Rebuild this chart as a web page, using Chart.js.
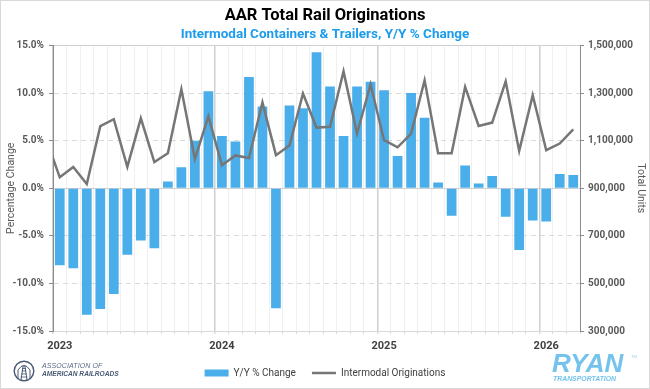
<!DOCTYPE html>
<html>
<head>
<meta charset="utf-8">
<title>AAR Total Rail Originations</title>
<script src="https://cdn.jsdelivr.net/npm/chart.js@4.4.1/dist/chart.umd.min.js"></script>
<style>
    html, body { margin: 0; padding: 0; background: #fff; }
    #wrap {
        position: relative;
        width: 650px; height: 389px;
        box-sizing: border-box;
        border: 1px solid #d9d9d9;
        background: #fff;
        overflow: hidden;
        font-family: "Liberation Sans", Arial, sans-serif;
    }
    #railChart { position: absolute; left: 0; top: 0; }
    .aar-icon { position: absolute; left: 12px; top: 358px; }
    .aar-line1 { position: absolute; left: 41px; top: 361px; font-size: 7px; font-style: italic; color: #5b6a84; letter-spacing: 0.1px; white-space: nowrap; }
    .aar-line2 { position: absolute; left: 41px; top: 369px; font-size: 6.6px; font-style: italic; font-weight: bold; color: #4a5a75; white-space: nowrap; }
    .ryan { position: absolute; left: 551px; top: 349px; font-size: 26px; line-height: 26px; font-weight: bold; font-style: italic; color: #74c3ec; white-space: nowrap; }
    .ryan-tm { position: absolute; left: 630px; top: 353px; font-size: 4px; color: #9ccfeb; }
    .ryan-sub { position: absolute; left: 552px; top: 373px; font-size: 8px; line-height: 9px; font-weight: bold; font-style: italic; color: #74c3ec; white-space: nowrap; transform: scaleX(0.86); transform-origin: left top; }
</style>
</head>
<body>
<div id="wrap">
    <canvas id="railChart" width="648" height="387"></canvas>
    <svg class="aar-icon" width="22" height="25" viewBox="0 0 22 25">
        <circle cx="11" cy="12" r="9.8" fill="none" stroke="#4a5a75" stroke-width="1.4"/>
        <path d="M5 20 L5 11 Q11 2 17 11 L17 20" fill="none" stroke="#4a5a75" stroke-width="1"/>
        <path d="M8 21 L10.3 6 M14 21 L11.7 6" fill="none" stroke="#4a5a75" stroke-width="1"/>
        <path d="M7.6 18 H14.4 M8.1 15 H13.9 M8.6 12 H13.4 M9.1 9.5 H12.9" fill="none" stroke="#4a5a75" stroke-width="0.8"/>
    </svg>
    <div class="aar-line1">ASSOCIATION OF</div>
    <div class="aar-line2">AMERICAN RAILROADS</div>
    <div class="ryan">RYAN</div>
    <div class="ryan-tm">TM</div>
    <div class="ryan-sub">TRANSPORTATION</div>
</div>
<script>
// monthly categories, first one only feeds the line into the left edge
const months = [
    'Dec 2022',
    'Jan 2023', 'Feb 2023', 'Mar 2023', 'Apr 2023', 'May 2023', 'Jun 2023',
    'Jul 2023', 'Aug 2023', 'Sep 2023', 'Oct 2023', 'Nov 2023', 'Dec 2023',
    'Jan 2024', 'Feb 2024', 'Mar 2024', 'Apr 2024', 'May 2024', 'Jun 2024',
    'Jul 2024', 'Aug 2024', 'Sep 2024', 'Oct 2024', 'Nov 2024', 'Dec 2024',
    'Jan 2025', 'Feb 2025', 'Mar 2025', 'Apr 2025', 'May 2025', 'Jun 2025',
    'Jul 2025', 'Aug 2025', 'Sep 2025', 'Oct 2025', 'Nov 2025', 'Dec 2025',
    'Jan 2026', 'Feb 2026', 'Mar 2026'
];

// Y/Y % change (bars)
const yoyChange = [
    null,
    -8.1, -8.4, -13.3, -12.7, -11.1, -7.0, -5.5, -6.3, 0.7, 2.2, 5.0, 10.2,
    5.5, 4.9, 11.7, 8.6, -12.6, 8.7, 8.4, 14.3, 10.7, 5.5, 10.7, 11.2,
    10.3, 3.4, 10.0, 7.4, 0.6, -2.9, 2.4, 0.5, 1.3, -3.0, -6.5, -3.4,
    -3.5, 1.5, 1.4
];

// intermodal originations, total units (line)
const originations = [
    1106000,
    946000, 989000, 918000, 1161000, 1190000, 990000, 1194000, 1010000, 1047000, 1316000, 1023000, 1202000,
    997000, 1038000, 1027000, 1261000, 1039000, 1080000, 1298000, 1155000, 1158000, 1391000, 1130000, 1336000,
    1102000, 1072000, 1130000, 1354000, 1047000, 1047000, 1326000, 1162000, 1176000, 1349000, 1057000, 1291000,
    1060000, 1088000, 1147000
];

const pctTicks = { min: -15, max: 15, step: 5 };
const unitTicks = { min: 300000, max: 1500000, step: 200000 };

const barBlue = '#4aaeea';
const lineGray = '#767676';
const tickText = '#595959';

Chart.defaults.font.family = 'Roboto, "Liberation Sans", sans-serif';
Chart.defaults.color = tickText;

function isJanuary(ctx) {
    return ctx.tick !== undefined && months[ctx.tick.value].startsWith('Jan');
}

const ctx = document.getElementById('railChart').getContext('2d');

new Chart(ctx, {
    type: 'bar',
    data: {
        labels: months,
        datasets: [
            {
                label: 'Y/Y % Change',
                data: yoyChange,
                backgroundColor: barBlue,
                barPercentage: 0.72,
                categoryPercentage: 1.0,
                yAxisID: 'y',
                order: 1
            },
            {
                type: 'line',
                label: 'Intermodal Originations',
                data: originations,
                borderColor: lineGray,
                backgroundColor: lineGray,
                borderWidth: 2.5,
                pointRadius: 0,
                tension: 0,
                yAxisID: 'y1',
                order: 0
            }
        ]
    },
    options: {
        responsive: false,
        animation: false,
        layout: { padding: { left: 0, right: 0, top: 0, bottom: 0 } },
        plugins: {
            title: {
                display: true,
                text: 'AAR Total Rail Originations',
                color: '#000000',
                font: { size: 16.5, weight: 'bold' },
                padding: { top: 5, bottom: 0 }
            },
            subtitle: {
                display: true,
                text: 'Intermodal Containers & Trailers, Y/Y % Change',
                color: '#1c9cec',
                font: { size: 13.5, weight: 'bold' },
                padding: { top: 1, bottom: 2.5 }
            },
            legend: {
                position: 'bottom',
                labels: {
                    usePointStyle: true,
                    pointStyleWidth: 24,
                    boxHeight: 7,
                    padding: 16,
                    color: '#404040',
                    font: { size: 10 },
                    generateLabels: chart => chart.data.datasets.map((ds, i) => ({
                        text: ds.label,
                        datasetIndex: i,
                        hidden: false,
                        fillStyle: ds.type === 'line' ? 'rgba(0,0,0,0)' : ds.backgroundColor,
                        strokeStyle: ds.type === 'line' ? ds.borderColor : ds.backgroundColor,
                        lineWidth: ds.type === 'line' ? 2.5 : 0,
                        pointStyle: ds.type === 'line' ? 'line' : 'rect',
                        fontColor: '#404040'
                    }))
                },
                onClick: null
            },
            tooltip: { enabled: false }
        },
        scales: {
            x: {
                type: 'category',
                min: 'Jan 2023',
                offset: true,
                grid: {
                    offset: true,
                    color: c => isJanuary(c) ? '#d0d0d0' : '#efefef',
                    lineWidth: c => isJanuary(c) ? 1.5 : 1,
                    tickLength: 3,
                    tickColor: '#d9d9d9'
                },
                border: { color: '#d9d9d9' },
                ticks: {
                    autoSkip: false,
                    maxRotation: 0,
                    padding: 6,
                    color: '#404040',
                    font: { size: 11, weight: 'bold' },
                    callback: value => months[value].startsWith('Jan') ? months[value].slice(4) : ''
                },
                afterFit: scale => { scale.height = 21; }
            },
            y: {
                position: 'left',
                min: pctTicks.min,
                max: pctTicks.max,
                ticks: {
                    stepSize: pctTicks.step,
                    padding: 5,
                    font: { size: 10, weight: 'bold' },
                    callback: v => v.toFixed(1) + '%'
                },
                grid: {
                    color: c => (c.tick && [15, 0, -15].includes(c.tick.value)) ? 'rgba(0,0,0,0)' : '#dadada',
                    tickColor: '#8c8c8c',
                    tickLength: 4
                },
                border: { color: '#8c8c8c', dash: [5, 4] },
                title: {
                    display: true,
                    text: 'Percentage Change',
                    color: tickText,
                    font: { size: 10.5 },
                    padding: { top: 4, bottom: 0 }
                },
                afterFit: scale => { scale.width = 52; }
            },
            y1: {
                position: 'right',
                min: unitTicks.min,
                max: unitTicks.max,
                ticks: {
                    stepSize: unitTicks.step,
                    padding: 4,
                    font: { size: 10, weight: 'bold' },
                    callback: v => v.toLocaleString('en-US')
                },
                grid: {
                    color: c => (c.tick && (c.tick.value === 900000 || c.tick.value === 1500000)) ? '#d0d0d0' : 'rgba(0,0,0,0)',
                    tickColor: '#8c8c8c',
                    tickLength: 4
                },
                border: { color: '#8c8c8c' },
                title: {
                    display: true,
                    text: 'Total Units',
                    color: tickText,
                    font: { size: 10.5 },
                    padding: { top: 2, bottom: 0 }
                },
                afterFit: scale => { scale.width = 69; }
            }
        }
    }
});
</script>
</body>
</html>
